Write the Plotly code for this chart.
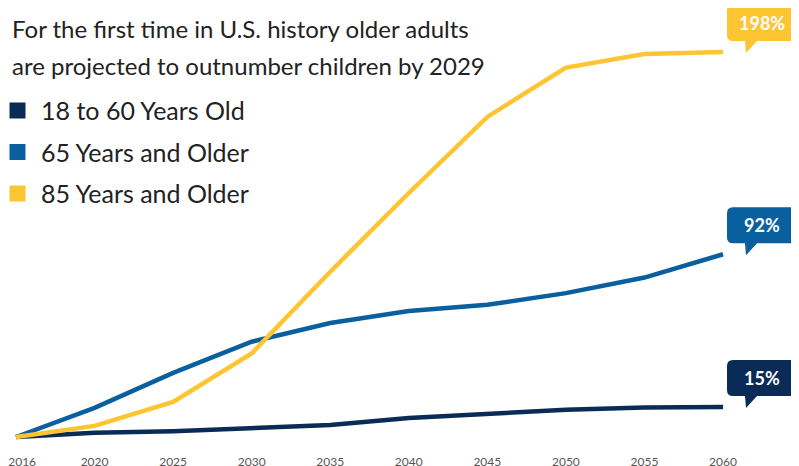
import plotly.graph_objects as go

years = ["2016", "2020", "2025", "2030", "2035", "2040", "2045", "2050", "2055", "2060"]
series_names = ["18 to 60 Years Old", "65 Years and Older", "85 Years and Older"]
adults_18_60 = [0, 2.2, 3.0, 4.6, 6.2, 9.8, 11.8, 14.0, 15.2, 15.4]
older_65 = [0, 15, 33, 49, 58.6, 64.8, 68, 74, 82, 94]
older_85 = [0, 5.7, 18, 43, 85, 125.5, 164.6, 190, 197, 198]
end_labels = ["15%", "92%", "198%"]
colors = ["#0b2b57", "#0a5f9f", "#fec532"]

title_lines = ["For the first time in U.S. history older adults",
               "are projected to outnumber children by 2029"]

# page body has an 8px margin, so the figure is sized to fill the rest
W, H = 791, 458
ML, MR, MT, MB = 0, 0, 0, 20
PH = H - MT - MB
PW = W - ML - MR

x_idx = list(range(len(years)))
x0_px, x9_px = 8, 715
ppu = (x9_px - x0_px) / (len(years) - 1)
xr = [-x0_px / ppu, (PW - x0_px) / ppu]
base_px, top_val_px = 429, 44
ppv = (base_px - top_val_px) / 198.0
yr = [-(PH - base_px) / ppv, base_px / ppv]

# first label nudged right (non-breaking spaces) so it is not clipped at the page edge
tick_text = ["\u00a0" * 4 + years[0]] + years[1:]

FONT = "Lato"
fig = go.Figure()
all_series = [adults_18_60, older_65, older_85]
for name, vals, col in zip(series_names, all_series, colors):
    fig.add_trace(go.Scatter(x=x_idx, y=vals, mode="lines", name=name,
                             line=dict(color=col, width=4.5), showlegend=False,
                             hoverinfo="skip"))

# legend drawn as squares + labels
legend_cy = [102, 143.5, 185]
for name, col, cy in zip(series_names, colors, legend_cy):
    fig.add_shape(type="rect", xref="paper", yref="paper",
                  x0=1.5 / PW, x1=17.5 / PW,
                  y0=(PH - cy - 8.5) / PH, y1=(PH - cy + 7.5) / PH,
                  fillcolor=col, line=dict(width=0))
    fig.add_annotation(x=31 / PW, y=(PH - cy) / PH, xref="paper", yref="paper",
                       xanchor="left", yanchor="middle", text=name, showarrow=False,
                       font=dict(family=FONT, size=25, color="#222222"))

bubble = ("M 10,47 L 68,47 Q 74,47 74,41 L 74,17 Q 74,11 68,11 "
          "L 34,11 L 23,-1 L 22,11 L 10,11 Q 4,11 4,17 L 4,41 Q 4,47 10,47 Z")
for vals, col, lab in zip(all_series, colors, end_labels):
    fig.add_shape(type="path", xref="x", yref="y", xsizemode="pixel", ysizemode="pixel",
                  xanchor=x_idx[-1], yanchor=vals[-1], path=bubble,
                  fillcolor=col, line=dict(width=0), layer="above")
    fig.add_annotation(x=x_idx[-1], y=vals[-1], xref="x", yref="y", text=f"<b>{lab}</b>",
                       showarrow=False, xshift=39, yshift=29,
                       font=dict(family=FONT, size=18, color="white"))

for line, cy in zip(title_lines, [20.5, 57.5]):
    fig.add_annotation(x=2 / PW, y=(PH - cy) / PH, xref="paper", yref="paper",
                       xanchor="left", yanchor="middle", text=line, showarrow=False,
                       font=dict(family=FONT, size=24, color="#222222"))

fig.update_layout(
    width=W, height=H, margin=dict(l=ML, r=MR, t=MT, b=MB),
    paper_bgcolor="white", plot_bgcolor="white",
    showlegend=False,
    xaxis=dict(range=xr, tickvals=x_idx, ticktext=tick_text, showgrid=False, zeroline=False,
               showline=False, ticks="", ticklabelstandoff=7, automargin=False,
               ticklabeloverflow="allow",
               tickfont=dict(family=FONT, size=12, color="#555555")),
    yaxis=dict(range=yr, visible=False, showgrid=False, zeroline=False, automargin=False),
)
fig.write_html("out.html")
